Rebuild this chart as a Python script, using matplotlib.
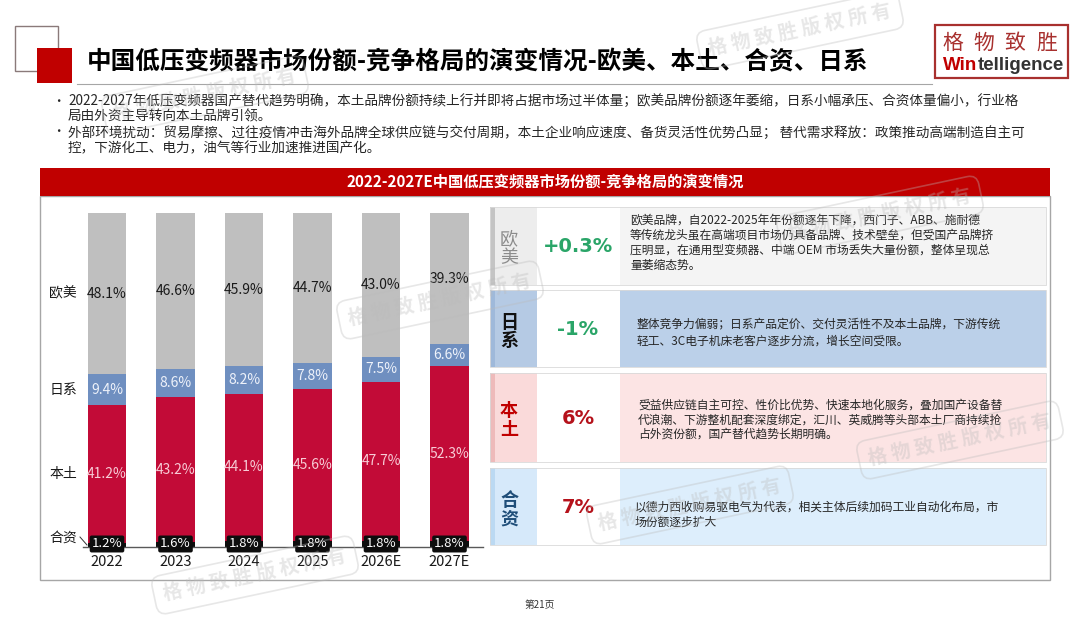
import matplotlib
matplotlib.use('Agg')
import matplotlib.pyplot as plt
from matplotlib.patches import Rectangle
import matplotlib.transforms as mtransforms

plt.rcParams['font.family'] = ['Noto Sans CJK SC', 'DejaVu Sans']

# ---------------- data ----------------
years = ['2022', '2023', '2024', '2025', '2026E', '2027E']
share_hezi = [1.2, 1.6, 1.8, 1.8, 1.8, 1.8]        # 合资
share_bentu = [41.2, 43.2, 44.1, 45.6, 47.7, 52.3]  # 本土
share_rixi = [9.4, 8.6, 8.2, 7.8, 7.5, 6.6]         # 日系
share_oumei = [48.1, 46.6, 45.9, 44.7, 43.0, 39.3]  # 欧美
series_names = ['合资', '本土', '日系', '欧美']

panel_cats = ['欧美', '日系', '本土', '合资']
panel_vals = ['+0.3%', '-1%', '6%', '7%']
panel_desc = [
    ['欧美品牌，自2022-2025年年份额逐年下降，西门子、ABB、施耐德',
     '等传统龙头虽在高端项目市场仍具备品牌、技术壁垒，但受国产品牌挤',
     '压明显，在通用型变频器、中端 OEM 市场丢失大量份额，整体呈现总',
     '量萎缩态势。'],
    ['整体竞争力偏弱；日系产品定价、交付灵活性不及本土品牌，下游传统',
     '轻工、3C电子机床老客户逐步分流，增长空间受限。'],
    ['受益供应链自主可控、性价比优势、快速本地化服务，叠加国产设备替',
     '代浪潮、下游整机配套深度绑定，汇川、英威腾等头部本土厂商持续抢',
     '占外资份额，国产替代趋势长期明确。'],
    ['以德力西收购易驱电气为代表，相关主体后续加码工业自动化布局，市',
     '场份额逐步扩大'],
]

title = '中国低压变频器市场份额-竞争格局的演变情况-欧美、本土、合资、日系'
chart_title = '2022-2027E中国低压变频器市场份额-竞争格局的演变情况'
bullets = [
    ['2022-2027年低压变频器国产替代趋势明确，本土品牌份额持续上行并即将占据市场过半体量；欧美品牌份额逐年萎缩，日系小幅承压、合资体量偏小，行业格',
     '局由外资主导转向本土品牌引领。'],
    ['外部环境扰动：贸易摩擦、过往疫情冲击海外品牌全球供应链与交付周期，本土企业响应速度、备货灵活性优势凸显； 替代需求释放：政策推动高端制造自主可',
     '控，下游化工、电力，油气等行业加速推进国产化。'],
]

# ---------------- figure ----------------
W, H = 1080, 617
fig = plt.figure(figsize=(W / 100, H / 100), dpi=100)
fig.patch.set_facecolor('white')

bg = fig.add_axes([0, 0, 1, 1])
bg.set_xlim(0, W)
bg.set_ylim(H, 0)
bg.axis('off')

# header decoration
bg.add_patch(Rectangle((15, 26), 43, 45, fill=False, ec='#8A7A7A', lw=1.0))
bg.add_patch(Rectangle((37, 48), 35, 35, fc='#C00000', ec='none'))
bg.text(87, 62, title, fontsize=17.7, fontweight='bold', va='center', ha='left', color='#000000')
bg.plot([77, 932], [83.5, 83.5], color='#A6A6A6', lw=0.8)

# logo
bg.add_patch(Rectangle((935, 25), 133, 53, fill=False, ec='#A8302E', lw=1.6))
for ch, cx in zip('格物致胜', [953, 984, 1015, 1047]):
    bg.text(cx, 43, ch, fontsize=15, color='#A8302E', ha='center', va='center')
r = fig.canvas.get_renderer()
t1 = bg.text(943, 66, 'Win', fontsize=13.5, fontweight='bold', color='#C00000',
             ha='left', va='center', family=['Liberation Sans', 'DejaVu Sans'])
bb = t1.get_window_extent(renderer=r)
inv = bg.transData.inverted()
x_end = inv.transform((bb.x1, bb.y0))[0]
bg.text(x_end, 66, 'telligence', fontsize=13.5, fontweight='bold', color='#333333',
        ha='left', va='center', family=['Liberation Sans', 'DejaVu Sans'])

# bullets
bullet_y = [[101, 116], [132, 148]]
for lines, ys in zip(bullets, bullet_y):
    bg.text(52, ys[0], '•', fontsize=9, va='center', ha='left', color='#262626')
    for ln, y in zip(lines, ys):
        bg.text(68, y, ln, fontsize=9.8, va='center', ha='left', color='#262626')

# banner + chart box
bg.add_patch(Rectangle((40, 196), 1010, 384, fill=False, ec='#A6A6A6', lw=1.0))
bg.add_patch(Rectangle((40, 168), 1010, 28, fc='#C00000', ec='none'))
bg.text(545, 182, chart_title, fontsize=11, fontweight='bold', color='white', ha='center', va='center')

# right panels
rows = [(207, 285), (290, 367), (373, 462), (468, 545)]
stripe_c = ['#C4C4C4', '#9FB9DA', '#EEBABA', '#BBD9F2']
cat_c = ['#EDEDED', '#B5CAE4', '#FADADA', '#D6E9FA']
desc_c = ['#F4F4F4', '#BBD0E9', '#FCE4E4', '#DDEEFC']
cat_txt_c = ['#8C8C8C', '#111111', '#C00000', '#1F4E79']
cat_weight = ['normal', 'bold', 'bold', 'bold']
val_c = ['#2AA568', '#2AA568', '#B5121B', '#B5121B']
desc_x = [630, 637, 638, 635]
desc_ys = [[220, 235.5, 250.5, 265], [324, 341], [405, 420, 434], [507, 522]]
for i, (y0, y1) in enumerate(rows):
    h = y1 - y0
    bg.add_patch(Rectangle((490, y0), 5, h, fc=stripe_c[i], ec='none'))
    bg.add_patch(Rectangle((495, y0), 42, h, fc=cat_c[i], ec='none'))
    bg.add_patch(Rectangle((537, y0), 83, h, fc='white', ec='none'))
    bg.add_patch(Rectangle((620, y0), 426, h, fc=desc_c[i], ec='none'))
    bg.add_patch(Rectangle((490, y0), 556, h, fill=False, ec='#D9D9D9', lw=0.6))
    cy = (y0 + y1) / 2 + 3
    bg.text(509, cy - 9.5, panel_cats[i][0], fontsize=13, fontweight=cat_weight[i],
            color=cat_txt_c[i], ha='center', va='center')
    bg.text(509, cy + 9.5, panel_cats[i][1], fontsize=13, fontweight=cat_weight[i],
            color=cat_txt_c[i], ha='center', va='center')
    bg.text(578, (y0 + y1) / 2 + 1, panel_vals[i], fontsize=14, fontweight='bold',
            color=val_c[i], ha='center', va='center', family=['DejaVu Sans'])
    for ln, yy in zip(panel_desc[i], desc_ys[i]):
        bg.text(desc_x[i], yy, ln, fontsize=8.5, color='#262626', ha='left', va='center')

# page number
bg.text(540, 605, '第21页', fontsize=7, color='#333333', ha='center', va='center')

# ---------------- stacked bar chart ----------------
ax_l, ax_r, ax_t, ax_b = 83, 483, 213, 547
ax = fig.add_axes([ax_l / W, 1 - ax_b / H, (ax_r - ax_l) / W, (ax_b - ax_t) / H])
ax.patch.set_alpha(0)
step = 68.5
c0 = 107
ax.set_xlim((ax_l - c0) / step, (ax_r - c0) / step)
ax.set_ylim(0, 100)
xs = list(range(len(years)))
bw = 0.555

series = [share_hezi, share_bentu, share_rixi, share_oumei]
colors = ['#0D0D0D', '#C20B37', '#6F8FC0', '#BFBFBF']
label_colors = [None, '#F7CCD6', '#EEF2FA', '#1A1A1A']
bottoms = [0.0] * len(years)
centers = []
for s, col, lc in zip(series, colors, label_colors):
    ax.bar(xs, s, bw, bottom=bottoms, color=col, edgecolor='none', zorder=2)
    cen = [b + v / 2 for b, v in zip(bottoms, s)]
    centers.append(cen)
    if lc is not None:
        for x, cy, v in zip(xs, cen, s):
            ax.text(x, cy, f'{v:.1f}%', ha='center', va='center', fontsize=10, color=lc, zorder=4)
    bottoms = [b + v for b, v in zip(bottoms, s)]

for x, v in zip(xs, share_hezi):
    ax.text(x, 0.9, f'{v:.1f}%', ha='center', va='center', fontsize=9.5, color='white', zorder=6,
            bbox=dict(boxstyle='round,pad=0.15', fc='#0D0D0D', ec='none'), clip_on=False)

for sp in ['top', 'right', 'left']:
    ax.spines[sp].set_visible(False)
ax.spines['bottom'].set_color('#595959')
ax.spines['bottom'].set_linewidth(1.0)
ax.spines['bottom'].set_zorder(5)
ax.set_yticks([])
ax.set_xticks(xs)
ax.set_xticklabels(years, fontsize=10.5, color='#1A1A1A')
ax.tick_params(axis='x', length=0, pad=6)

# row labels on the left
tr = mtransforms.blended_transform_factory(fig.transFigure, ax.transData)
row_y = [centers[3][0], centers[2][0], centers[1][0], 2.7]
for name, yy in zip(['欧美', '日系', '本土', '合资'], row_y):
    ax.text(77 / W, yy, name, transform=tr, ha='right', va='center', fontsize=10, color='#1A1A1A',
            clip_on=False)
bg.plot([80, 87], [537, 545], color='#333333', lw=0.7)

# ---------------- faint watermarks ----------------
wm = fig.add_axes([0, 0, 1, 1])
wm.set_xlim(0, W)
wm.set_ylim(H, 0)
wm.axis('off')
wm.patch.set_alpha(0)
marks = [(800, 30), (440, 300), (255, 575), (690, 505), (960, 440), (205, 95), (880, 215)]
for (mx, my) in marks:
    wm.text(mx, my, '格 物 致 胜 版 权 所 有', fontsize=14, color='#BBBBBB', alpha=0.35,
            rotation=12, ha='center', va='center', fontweight='bold',
            bbox=dict(boxstyle='round,pad=0.5', fc='none', ec='#BBBBBB', lw=1.2, alpha=0.35))

fig.savefig('out.png', dpi=100)
